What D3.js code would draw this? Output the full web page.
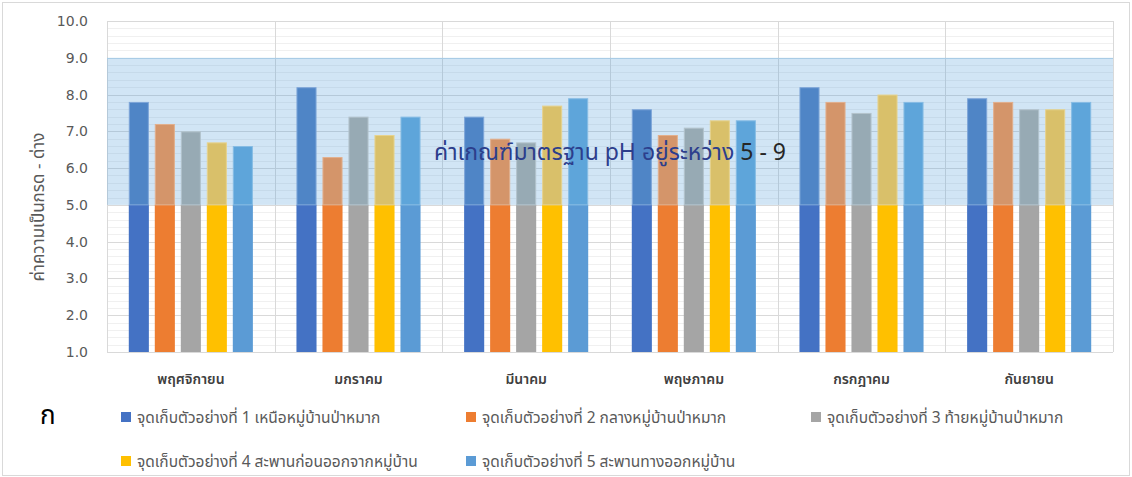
<!DOCTYPE html>
<html>
<head>
<meta charset="utf-8">
<script src="https://cdn.jsdelivr.net/npm/d3@7"></script>
<style>
  html, body { margin: 0; padding: 0; background: #ffffff; }
  svg { display: block; font-family: "Noto Sans Thai", Tahoma, "Noto Sans", sans-serif; }
</style>
</head>
<body>
<svg id="chart" width="1132" height="477"></svg>
<script>
// Sampling months (x categories)
const months = ["พฤศจิกายน", "มกราคม", "มีนาคม", "พฤษภาคม", "กรกฎาคม", "กันยายน"];

// Sampling stations (series)
const stations = [
  "จุดเก็บตัวอย่างที่ 1 เหนือหมู่บ้านป่าหมาก",
  "จุดเก็บตัวอย่างที่ 2 กลางหมู่บ้านป่าหมาก",
  "จุดเก็บตัวอย่างที่ 3 ท้ายหมู่บ้านป่าหมาก",
  "จุดเก็บตัวอย่างที่ 4 สะพานก่อนออกจากหมู่บ้าน",
  "จุดเก็บตัวอย่างที่ 5 สะพานทางออกหมู่บ้าน"
];

// pH per station, one value per month
const station1 = [7.8, 8.2, 7.4, 7.6, 8.2, 7.9];
const station2 = [7.2, 6.3, 6.8, 6.9, 7.8, 7.8];
const station3 = [7.0, 7.4, 6.7, 7.1, 7.5, 7.6];
const station4 = [6.7, 6.9, 7.7, 7.3, 8.0, 7.6];
const station5 = [6.6, 7.4, 7.9, 7.3, 7.8, 7.8];
const seriesValues = [station1, station2, station3, station4, station5];

// Y axis ticks and the standard pH range
const yTicks = [1, 2, 3, 4, 5, 6, 7, 8, 9, 10];
const standardRange = [5, 9];

// Station colours: full tone and the tone seen through the standard band
const baseColors  = ["#4472C4", "#ED7D31", "#A5A5A5", "#FFC000", "#5B9BD5"];
const bandColors  = ["#4F85C6", "#D4956A", "#97AAB4", "#D9C06A", "#5EA5DA"];
const edgeColors  = ["#7DA5D8", "#E2AF8C", "#B3C3CC", "#E6D28E", "#86BCE4"];

const svg = d3.select("#chart");
const W = 1132, H = 477;

// Outer frame
svg.append("rect")
  .attr("x", 2.5).attr("y", 2.5)
  .attr("width", W - 5).attr("height", H - 4)
  .attr("fill", "#ffffff").attr("stroke", "#D9D9D9").attr("stroke-width", 1);

const plot = { left: 107, right: 1113, top: 21, bottom: 352 };

const y = d3.scaleLinear().domain([1, 10]).range([plot.bottom, plot.top]);
const x0 = d3.scaleBand().domain(months).range([plot.left, plot.right]).padding(0);
const x1 = d3.scaleBand().domain(d3.range(stations.length))
  .range([0, x0.bandwidth()]).paddingInner(0.228).paddingOuter(0.838);

const g = svg.append("g");

// Minor gridlines every 0.2
const minor = d3.range(1, 10.0001, 0.2).filter(v => Math.abs(v - Math.round(v)) > 1e-6);
g.selectAll("line.minor").data(minor).enter().append("line")
  .attr("x1", plot.left).attr("x2", plot.right)
  .attr("y1", d => Math.round(y(d)) + 0.5).attr("y2", d => Math.round(y(d)) + 0.5)
  .attr("stroke", "#F0F0F0").attr("stroke-width", 1);

// Major gridlines
g.selectAll("line.major").data(yTicks).enter().append("line")
  .attr("x1", plot.left).attr("x2", plot.right)
  .attr("y1", d => Math.round(y(d)) + 0.5).attr("y2", d => Math.round(y(d)) + 0.5)
  .attr("stroke", "#D9D9D9").attr("stroke-width", 1);

// Category separators
const bounds = months.map(m => x0(m)).concat([plot.right]);
g.selectAll("line.sep").data(bounds).enter().append("line")
  .attr("x1", d => Math.round(d) + 0.5).attr("x2", d => Math.round(d) + 0.5)
  .attr("y1", plot.top).attr("y2", plot.bottom)
  .attr("stroke", "#D9D9D9").attr("stroke-width", 1);

// Standard range band (translucent, lets the grid show through)
svg.append("rect")
  .attr("x", plot.left).attr("width", plot.right - plot.left)
  .attr("y", y(standardRange[1])).attr("height", y(standardRange[0]) - y(standardRange[1]))
  .attr("fill", "rgba(91,160,220,0.28)");
svg.append("line")
  .attr("x1", plot.left).attr("x2", plot.right)
  .attr("y1", Math.round(y(standardRange[1])) + 0.5).attr("y2", Math.round(y(standardRange[1])) + 0.5)
  .attr("stroke", "#A9CCE6").attr("stroke-width", 1.2);

// Bars: lower part full tone, part inside the band muted
const groups = svg.append("g").selectAll("g").data(months).enter().append("g")
  .attr("transform", d => `translate(${x0(d)},0)`);

groups.each(function(m, mi) {
  const gg = d3.select(this);
  seriesValues.forEach((vals, si) => {
    const v = vals[mi];
    const bx = x1(si), bw = x1.bandwidth();
    const lowTop = v < standardRange[0] ? v : standardRange[0];
    gg.append("rect")
      .attr("x", bx).attr("width", bw)
      .attr("y", y(lowTop)).attr("height", y(1) - y(lowTop))
      .attr("fill", baseColors[si]);
    if (v > standardRange[0]) {
      gg.append("rect")
        .attr("x", bx + 0.5).attr("width", bw - 1)
        .attr("y", y(v) + 0.5).attr("height", y(standardRange[0]) - y(v) - 0.5)
        .attr("fill", bandColors[si])
        .attr("stroke", edgeColors[si]).attr("stroke-width", 1);
    }
  });
});

// Axis line at the bottom
svg.append("line")
  .attr("x1", plot.left).attr("x2", plot.right)
  .attr("y1", plot.bottom + 0.5).attr("y2", plot.bottom + 0.5)
  .attr("stroke", "#D9D9D9");

// Y axis tick labels
const yAxis = d3.axisLeft(y).tickValues(yTicks).tickFormat(d3.format(".1f")).tickSize(0).tickPadding(19);
const ya = svg.append("g").attr("transform", `translate(${plot.left},0)`).call(yAxis);
ya.select(".domain").remove();
ya.selectAll("text")
  .attr("font-family", "'DejaVu Sans', Verdana, sans-serif")
  .attr("font-size", 14).attr("fill", "#595959");

// X axis category labels
const xAxis = d3.axisBottom(x0).tickSize(0).tickPadding(22);
const xa = svg.append("g").attr("transform", `translate(0,${plot.bottom})`).call(xAxis);
xa.select(".domain").remove();
xa.selectAll("text")
  .attr("font-family", "'Noto Sans Thai', Tahoma, 'Noto Sans', sans-serif")
  .attr("font-size", 14).attr("font-weight", 600).attr("fill", "#404040");

// Y axis title
svg.append("text")
  .attr("transform", "translate(44,207) rotate(-90)")
  .attr("text-anchor", "middle")
  .attr("font-size", 17).attr("fill", "#595959")
  .text("ค่าความเป็นกรด - ด่าง");

// Band annotation
const note = svg.append("text")
  .attr("x", (plot.left + plot.right) / 2).attr("y", 160)
  .attr("text-anchor", "middle")
  .attr("font-size", 23);
note.append("tspan").attr("fill", "#2C3E8C").text("ค่าเกณฑ์มาตรฐาน pH อยู่ระหว่าง ");
note.append("tspan").attr("fill", "#262626").text("5 - 9");

// Panel letter
svg.append("text")
  .attr("x", 40).attr("y", 424)
  .attr("font-size", 26).attr("fill", "#000000")
  .text("ก");

// Legend
const legendPos = [
  { x: 121, y: 412 }, { x: 466, y: 412 }, { x: 811, y: 412 },
  { x: 121, y: 456 }, { x: 466, y: 456 }
];
const legend = svg.append("g").selectAll("g").data(stations).enter().append("g")
  .attr("transform", (d, i) => `translate(${legendPos[i].x},${legendPos[i].y})`);
legend.append("rect")
  .attr("width", 10).attr("height", 10)
  .attr("fill", (d, i) => baseColors[i]);
legend.append("text")
  .attr("x", 16).attr("y", 10.5)
  .attr("font-size", 15.5).attr("fill", "#595959")
  .text(d => d);
</script>
</body>
</html>
